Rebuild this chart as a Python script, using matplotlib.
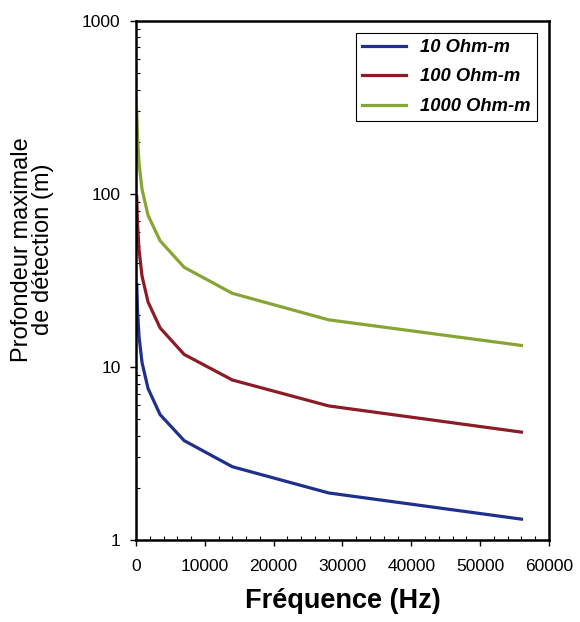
import numpy as np
import matplotlib.pyplot as plt
from matplotlib.ticker import MultipleLocator, LogLocator, NullFormatter

plt.rcParams['font.family'] = ['Liberation Sans', 'DejaVu Sans']

# frequencies (Hz) and max detection depth (m)
freq = [109.4, 218.75, 437.5, 875, 1750, 3500, 7000, 14000, 28000, 56000]
depth_10 = [30.0, 21.2, 15.0, 10.6, 7.5, 5.3, 3.75, 2.65, 1.87, 1.32]
depth_100 = [96.0, 67.0, 47.5, 33.5, 23.7, 16.8, 11.8, 8.4, 5.95, 4.2]
depth_1000 = [300.0, 213.0, 150.0, 106.0, 75.0, 53.5, 37.6, 26.6, 18.7, 13.3]

fig = plt.figure(figsize=(5.8, 6.22), dpi=100)
ax = fig.add_axes([0.2345, 0.1318, 0.712, 0.835])

ax.plot(freq, depth_10, color='#1f308c', lw=2.3, label='10 Ohm-m')
ax.plot(freq, depth_100, color='#8c1c24', lw=2.3, label='100 Ohm-m')
ax.plot(freq, depth_1000, color='#86a535', lw=2.3, label='1000 Ohm-m')

ax.set_yscale('log')
ax.set_ylim(1, 1000)
ax.set_xlim(0, 60000)
ax.set_yticks([1, 10, 100, 1000])
ax.set_yticklabels(['1', '10', '100', '1000'])
ax.yaxis.set_minor_locator(LogLocator(base=10, subs=np.arange(2, 10)))
ax.yaxis.set_minor_formatter(NullFormatter())
ax.xaxis.set_major_locator(MultipleLocator(10000))
ax.xaxis.set_minor_locator(MultipleLocator(2000))

for s in ax.spines.values():
    s.set_linewidth(1.8)
ax.tick_params(which='major', direction='out', length=4, width=1, labelsize=12.5)
ax.tick_params(axis='x', which='major', pad=10)
ax.tick_params(axis='y', which='major', pad=7)
ax.tick_params(which='minor', direction='in', length=3, width=0.8)

ax.set_xlabel('Fréquence (Hz)', fontsize=19.5, fontweight='bold', labelpad=10)
ax.set_ylabel('Profondeur maximale\nde détection (m)', fontsize=17, linespacing=0.95)
ax.yaxis.set_label_coords(-0.198, 0.559)

leg = ax.legend(loc='upper right', bbox_to_anchor=(0.971, 0.977), borderaxespad=0,
                fancybox=False, edgecolor='black', framealpha=1, handlelength=2.4,
                handletextpad=0.75, borderpad=0.35, labelspacing=0.68,
                prop={'style': 'italic', 'weight': 'bold', 'size': 13.2})
leg.get_frame().set_linewidth(0.8)

fig.savefig('out.png', dpi=100)
